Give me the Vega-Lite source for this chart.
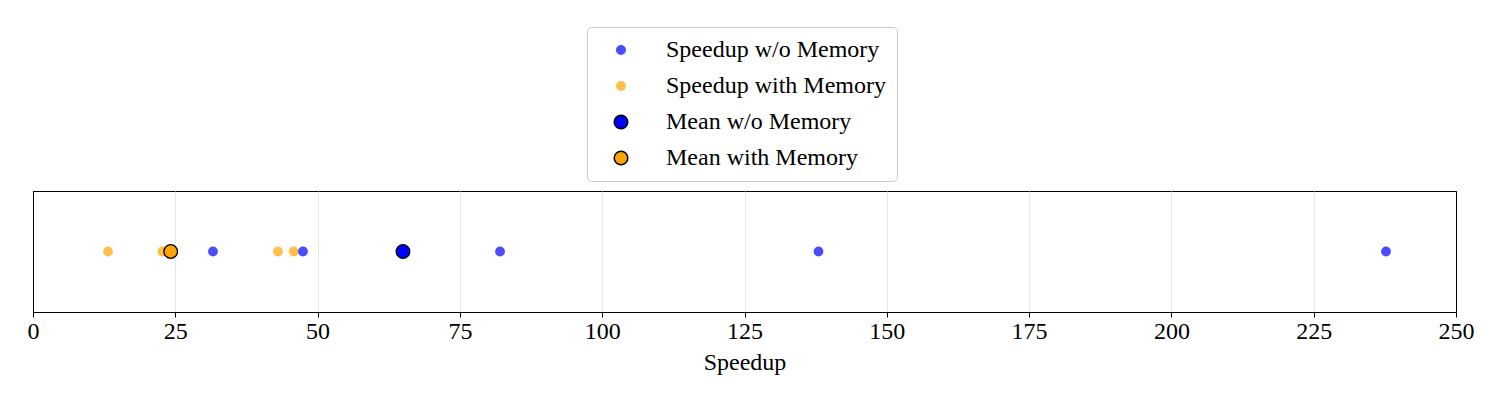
{
  "$schema": "https://vega.github.io/schema/vega-lite/v6.json",
  "width": 1423,
  "height": 121,
  "autosize": {"type": "none"},
  "padding": {"left": 33, "top": 191, "right": 44, "bottom": 88},
  "background": "white",
  "config": {
    "view": {"stroke": "black", "strokeWidth": 1},
    "font": "Liberation Serif"
  },
  "data": {
    "values": [
      {"speedup": 13.18, "series": "Speedup with Memory"},
      {"speedup": 22.73, "series": "Speedup with Memory"},
      {"speedup": 43.04, "series": "Speedup with Memory"},
      {"speedup": 45.8, "series": "Speedup with Memory"},
      {"speedup": 31.62, "series": "Speedup w/o Memory"},
      {"speedup": 47.43, "series": "Speedup w/o Memory"},
      {"speedup": 82.05, "series": "Speedup w/o Memory"},
      {"speedup": 138.0, "series": "Speedup w/o Memory"},
      {"speedup": 237.7, "series": "Speedup w/o Memory"},
      {"speedup": 65.0, "series": "Mean w/o Memory"},
      {"speedup": 24.19, "series": "Mean with Memory"}
    ]
  },
  "mark": {"type": "circle", "strokeWidth": 1.3},
  "encoding": {
    "x": {
      "field": "speedup",
      "type": "quantitative",
      "scale": {"domain": [0, 250], "nice": false, "zero": false},
      "axis": {
        "values": [0, 25, 50, 75, 100, 125, 150, 175, 200, 225, 250],
        "title": "Speedup",
        "grid": true,
        "gridColor": {"condition": {"test": "datum.value === 0 || datum.value === 250", "value": "black"}, "value": "#e6e6e6"},
        "gridWidth": 1,
        "domainColor": "black",
        "tickColor": "black",
        "tickSize": 5,
        "tickWidth": 1,
        "labelFontSize": 24,
        "labelColor": "black",
        "labelFlush": false,
        "labelOverlap": false,
        "labelPadding": 2,
        "titleFontSize": 24,
        "titleFontWeight": "normal",
        "titleColor": "black",
        "titlePadding": 7
      }
    },
    "color": {
      "field": "series",
      "type": "nominal",
      "scale": {
        "type": "ordinal",
        "domain": ["Speedup w/o Memory", "Speedup with Memory", "Mean w/o Memory", "Mean with Memory"],
        "range": ["blue", "orange", "blue", "orange"]
      },
      "legend": {
        "title": null,
        "orient": "none",
        "legendX": 554,
        "legendY": -164,
        "padding": 11,
        "fillColor": "white",
        "strokeColor": "#cccccc",
        "cornerRadius": 4,
        "labelFontSize": 24,
        "labelFont": "Liberation Serif",
        "labelColor": "black",
        "labelLimit": 400,
        "rowPadding": 12,
        "symbolOffset": 11,
        "labelOffset": 33
      }
    },
    "stroke": {
      "field": "series",
      "type": "nominal",
      "scale": {
        "type": "ordinal",
        "domain": ["Speedup w/o Memory", "Speedup with Memory", "Mean w/o Memory", "Mean with Memory"],
        "range": ["blue", "orange", "black", "black"]
      }
    },
    "size": {
      "field": "series",
      "type": "nominal",
      "scale": {
        "type": "ordinal",
        "domain": ["Speedup w/o Memory", "Speedup with Memory", "Mean w/o Memory", "Mean with Memory"],
        "range": [72, 72, 185, 185]
      }
    },
    "opacity": {
      "field": "series",
      "type": "nominal",
      "scale": {
        "type": "ordinal",
        "domain": ["Speedup w/o Memory", "Speedup with Memory", "Mean w/o Memory", "Mean with Memory"],
        "range": [0.7, 0.7, 1, 1]
      }
    }
  }
}
